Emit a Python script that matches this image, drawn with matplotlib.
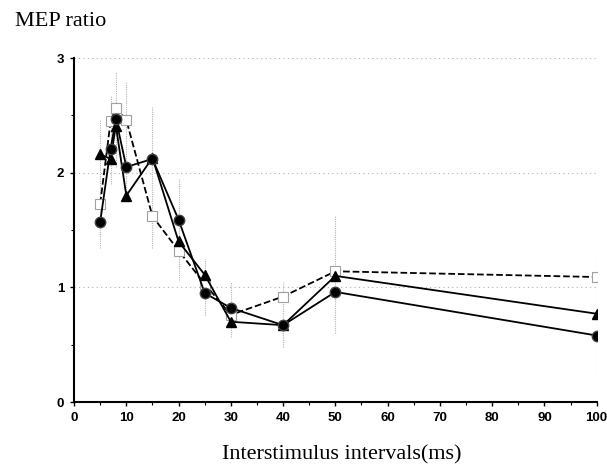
import matplotlib
matplotlib.use('Agg')
import matplotlib.pyplot as plt
from matplotlib.ticker import MultipleLocator

# interstimulus intervals (ms)
isi = [5, 7, 8, 10, 15, 20, 25, 30, 40, 50, 100]

# MEP ratio, three conditions
circle_vals = [1.57, 2.21, 2.47, 2.05, 2.12, 1.59, 0.95, 0.82, 0.67, 0.96, 0.58]
triangle_vals = [2.16, 2.12, 2.41, 1.80, 2.13, 1.40, 1.11, 0.70, 0.67, 1.10, 0.77]
square_vals = [1.73, 2.45, 2.56, 2.46, 1.62, 1.32, 1.03, 0.76, 0.92, 1.14, 1.09]

# error bar extents (one range per interval)
err_low = [1.34, 1.90, 2.05, 1.75, 1.34, 1.06, 0.76, 0.57, 0.48, 0.60, 0.22]
err_high = [2.46, 2.68, 2.88, 2.79, 2.57, 1.95, 1.25, 1.05, 1.05, 1.62, 1.27]


def main():
    fig = plt.figure(figsize=(6.07, 4.68), dpi=100)
    ax = fig.add_axes([0.122, 0.141, 0.861, 0.735])

    for x, lo, hi in zip(isi, err_low, err_high):
        ax.plot([x, x], [lo, hi], color='#b5b5b5', lw=0.8, ls=(0, (1, 1)), zorder=1)

    ax.plot(isi, square_vals, color='black', ls='--', lw=1.3, marker='s', ms=7.5,
            mfc='white', mec='#a0a0a0', mew=0.8, zorder=3)
    ax.plot(isi, triangle_vals, color='black', lw=1.3, marker='^', ms=7.5,
            mfc='black', mec='black', zorder=4)
    ax.plot(isi, circle_vals, color='black', lw=1.3, marker='o', ms=7.5,
            mfc='black', mec='#404040', zorder=5)

    ax.set_xlim(0, 100)
    ax.set_ylim(0, 3)
    ax.xaxis.set_major_locator(MultipleLocator(10))
    ax.xaxis.set_minor_locator(MultipleLocator(5))
    ax.yaxis.set_major_locator(MultipleLocator(1))
    ax.yaxis.set_minor_locator(MultipleLocator(0.5))
    ax.grid(axis='y', which='major', color='#b0b0b0', ls=(0, (1, 3)), lw=0.8)
    ax.set_axisbelow(True)

    for side in ('top', 'right'):
        ax.spines[side].set_visible(False)
    ax.spines['left'].set_linewidth(1.5)
    ax.spines['bottom'].set_linewidth(1.5)
    ax.tick_params(which='major', direction='out', length=3, width=1,
                   labelsize=9.5, pad=4)
    ax.tick_params(which='minor', direction='out', length=2, width=0.8)
    for lab in ax.get_xticklabels() + ax.get_yticklabels():
        lab.set_fontfamily('Liberation Sans')
        lab.set_fontweight('bold')

    fig.text(0.025, 0.955, 'MEP ratio', family='Liberation Serif', fontsize=16,
             va='center', ha='left')
    fig.text(0.563, 0.028, 'Interstimulus intervals(ms)', family='Liberation Serif',
             fontsize=16, va='center', ha='center')

    fig.savefig('out.png', dpi=100)


if __name__ == '__main__':
    main()
